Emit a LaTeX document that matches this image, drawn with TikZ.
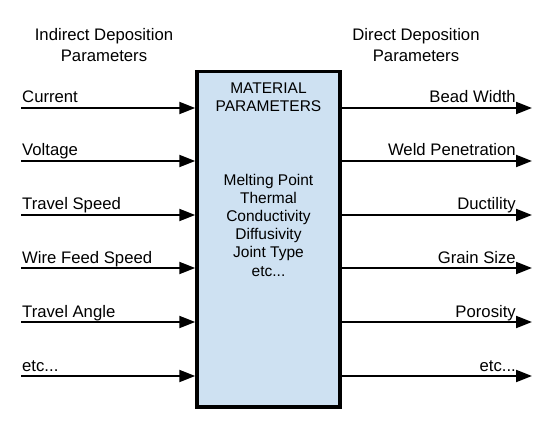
\documentclass[tikz,border=0pt]{standalone}
\usepackage{fontspec}
\setmainfont{Liberation Sans}
\usetikzlibrary{arrows.meta}
\definecolor{boxfill}{RGB}{206,225,242}
\newcommand\myetc{etc...}
\begin{document}
\begin{tikzpicture}[x=1pt,y=-1pt,
  lbl/.style={font=\fontsize{16.7}{20}\selectfont, inner sep=0pt},
  boxtxt/.style={font=\fontsize{15.5}{18}\selectfont, inner sep=0pt, anchor=base},
  flow/.style={line width=2pt, -{Triangle[length=16pt,width=12pt]}},
  matbox/.style={draw=black, line width=3.5pt, fill=boxfill, minimum width=143pt, minimum height=335.5pt, inner sep=0pt}
]
\useasboundingbox (0,0) rectangle (546,422);
% headers
\node[lbl, anchor=base] (h1a) at (104,41) {Indirect Deposition};
\node[lbl, anchor=base] (h1b) at (104,62) {Parameters};
\node[lbl, anchor=base] (h2a) at (416,41) {Direct Deposition};
\node[lbl, anchor=base] (h2b) at (416,62) {Parameters};
% material box
\node[matbox] (mat) at (268.5,239.25) {};
\node[boxtxt] (m1) at (268.5,94) {MATERIAL};
\node[boxtxt] (m2) at (268.5,112) {PARAMETERS};
\node[boxtxt] (p1) at (268.5,186) {Melting Point};
\node[boxtxt] (p2) at (268.5,204) {Thermal};
\node[boxtxt] (p3) at (268.5,222) {Conductivity};
\node[boxtxt] (p4) at (268.5,240) {Diffusivity};
\node[boxtxt] (p5) at (268.5,258) {Joint Type};
\node[boxtxt] (p6) at (268.5,276) {\myetc};
% left inputs
\foreach \i/\y/\t in {1/108/Current,2/161/Voltage,3/215/Travel Speed,4/268/Wire Feed Speed,5/322/Travel Angle,6/376/\myetc}{
  \coordinate (L\i) at (21,\y);
  \node[lbl, anchor=base west] (lt\i) at (22,\y-5) {\t};
  \draw[flow] (L\i) -- (mat.west |- L\i);
}
% right outputs
\foreach \i/\y/\t in {1/108/Bead Width,2/161/Weld Penetration,3/215/Ductility,4/268/Grain Size,5/322/Porosity,6/376/\myetc}{
  \coordinate (R\i) at (532,\y);
  \node[lbl, anchor=base east] (rt\i) at (516,\y-5) {\t};
  \draw[flow] (mat.east |- R\i) -- (R\i);
}
\end{tikzpicture}
\end{document}
